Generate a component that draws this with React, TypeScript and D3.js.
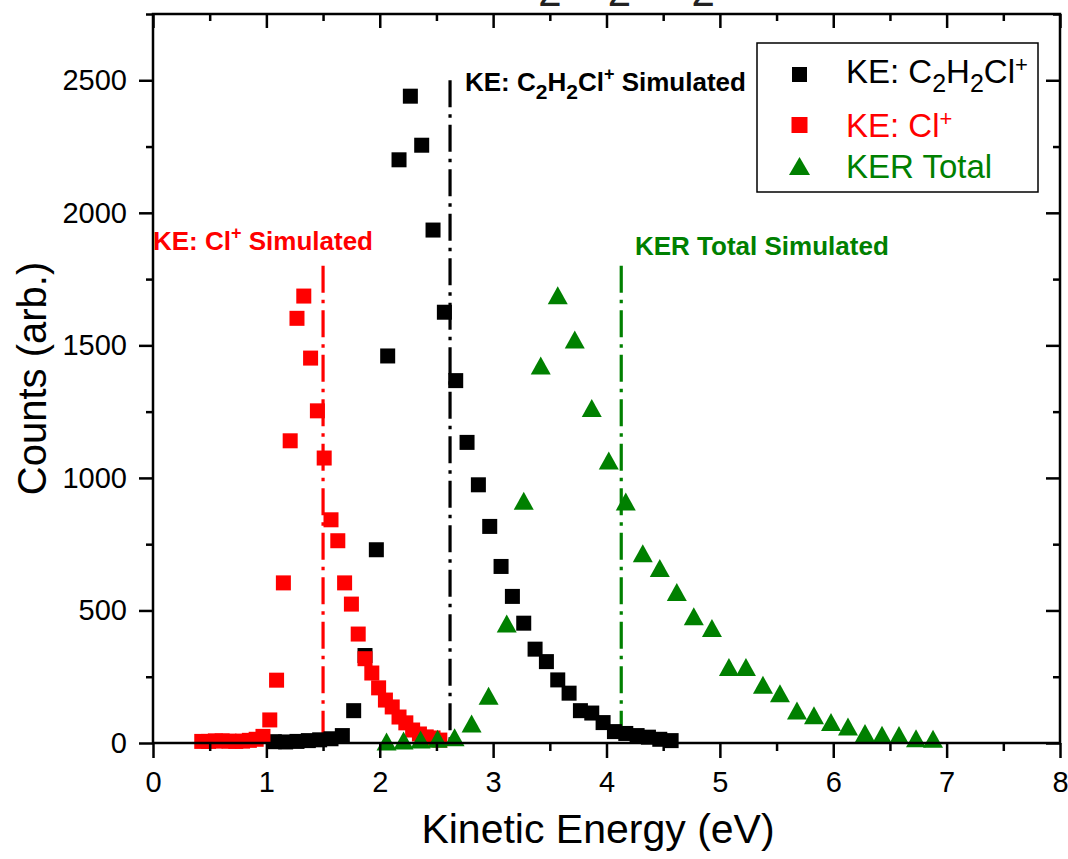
import React, { useRef, useEffect } from "react";
import * as d3 from "d3";

// axis ticks
const xTicks = [0, 1, 2, 3, 4, 5, 6, 7, 8];
const xMinor = [0.5, 1.5, 2.5, 3.5, 4.5, 5.5, 6.5, 7.5];
const yTicks = [0, 500, 1000, 1500, 2000, 2500];
const yMinor = [250, 750, 1250, 1750, 2250, 2750];

// KE: C2H2Cl+ (black squares)
const blackX = [1.07, 1.17, 1.27, 1.37, 1.47, 1.57, 1.67, 1.77, 1.87, 1.97, 2.07, 2.17, 2.27, 2.37, 2.47, 2.57, 2.67, 2.77, 2.87, 2.97, 3.07, 3.17, 3.27, 3.37, 3.47, 3.57, 3.67, 3.77, 3.87, 3.97, 4.07, 4.17, 4.27, 4.37, 4.47, 4.57];
const blackY = [5, 4, 6, 9, 12, 16, 28, 122, 330, 729, 1460, 2200, 2440, 2255, 1935, 1625, 1367, 1134, 974, 817, 666, 553, 452, 354, 307, 238, 188, 122, 113, 77, 43, 36, 28, 22, 14, 9];

// KE: Cl+ (red squares)
const redX = [0.43, 0.49, 0.55, 0.61, 0.67, 0.73, 0.79, 0.85, 0.91, 0.97, 1.03, 1.09, 1.15, 1.21, 1.27, 1.33, 1.39, 1.45, 1.51, 1.57, 1.63, 1.69, 1.75, 1.81, 1.87, 1.93, 1.99, 2.05, 2.11, 2.17, 2.23, 2.29, 2.35, 2.41, 2.47, 2.53];
const redY = [6, 6, 8, 8, 7, 6, 7, 10, 14, 25, 87, 237, 604, 1140, 1602, 1686, 1452, 1253, 1075, 842, 763, 604, 524, 411, 318, 264, 208, 162, 136, 98, 76, 49, 34, 23, 19, 11];

// KER Total (green triangles)
const greenX = [2.06, 2.21, 2.36, 2.51, 2.66, 2.81, 2.96, 3.12, 3.27, 3.42, 3.57, 3.72, 3.87, 4.02, 4.17, 4.32, 4.47, 4.62, 4.77, 4.93, 5.08, 5.23, 5.38, 5.53, 5.68, 5.83, 5.98, 6.13, 6.28, 6.43, 6.58, 6.73, 6.88];
const greenY = [6, 9, 13, 16, 22, 74, 178, 451, 914, 1424, 1689, 1522, 1264, 1066, 911, 716, 660, 570, 478, 434, 287, 287, 220, 188, 123, 105, 79, 62, 38, 31, 30, 18, 16];

// simulated values (vertical dash-dot lines)
const simEnergy = [1.5, 2.62, 4.13];
const simTop = [1800, 2500, 1800];
const simColor = ["#ff0000", "#000000", "#008000"];

const FONT = "Arial, 'Liberation Sans', Helvetica, sans-serif";
const GREEN = "#008000";
const RED = "#ff0000";

function KineticChart() {
  const axesRef = useRef<SVGGElement>(null);

  const x = d3.scaleLinear().domain([0, 8]).range([153, 1060]);
  const y = d3.scaleLinear().domain([0, 2750]).range([743, 14]);

  useEffect(() => {
    const g = d3.select(axesRef.current);
    g.selectAll("*").remove();

    const style = (sel: any) => {
      sel.select(".domain").remove();
      sel.selectAll("line").attr("stroke", "#000").attr("stroke-width", 2.5);
      sel.attr("font-size", 29).attr("font-family", FONT);
      sel.selectAll("text").attr("fill", "#000");
    };

    const bottom = g.append("g").attr("transform", `translate(0,${y(0)})`);
    bottom.call(d3.axisBottom(x).tickValues(xTicks).tickSize(15).tickPadding(13).tickFormat(d3.format("d")) as any).call(style);
    bottom.append("g").call(d3.axisBottom(x).tickValues(xMinor).tickSize(8).tickFormat(() => "") as any).call(style);

    const left = g.append("g").attr("transform", `translate(${x(0)},0)`);
    left.call(d3.axisLeft(y).tickValues(yTicks).tickSize(14).tickPadding(12).tickFormat(d3.format("d")) as any).call(style);
    left.append("g").call(d3.axisLeft(y).tickValues(yMinor).tickSize(7).tickFormat(() => "") as any).call(style);

    const top = g.append("g").attr("transform", `translate(0,${y(2750)})`);
    top.call(d3.axisTop(x).tickValues(xTicks).tickSize(-14).tickFormat(() => "") as any).call(style);
    top.append("g").call(d3.axisTop(x).tickValues(xMinor).tickSize(-7).tickFormat(() => "") as any).call(style);

    const right = g.append("g").attr("transform", `translate(${x(8)},0)`);
    right.call(d3.axisRight(y).tickValues(yTicks).tickSize(-14).tickFormat(() => "") as any).call(style);
    right.append("g").call(d3.axisRight(y).tickValues(yMinor).tickSize(-7).tickFormat(() => "") as any).call(style);
  }, []);

  const sq = 15;
  const triW = 20;
  const triH = 18;
  const triangle = (cx: number, cy: number, w: number, h: number) =>
    `M${cx - w / 2},${cy + h / 2}L${cx},${cy - h / 2}L${cx + w / 2},${cy + h / 2}Z`;

  return (
    <svg width={1068} height={859} style={{ position: "absolute", left: 0, top: 0, background: "#fff" }} fontFamily={FONT}>
      {/* title, cut off at the top edge as in the original figure */}
      <text x={492} y={-7} fontSize={64} fill="#222">
        C<tspan fontSize={42} dy={13}>2</tspan>
        <tspan dy={-13}>H</tspan>
        <tspan fontSize={42} dy={13}>2</tspan>
        <tspan dy={-13}>Cl</tspan>
        <tspan fontSize={42} dy={13}>2</tspan>
      </text>

      {/* simulated lines */}
      {simEnergy.map((e, i) => (
        <line key={i} x1={x(e)} x2={x(e)} y1={y(simTop[i])} y2={y(0)} stroke={simColor[i]} strokeWidth={3.2} strokeDasharray="27 7 3.5 7" />
      ))}

      {/* data */}
      {blackX.map((v, i) => (
        <rect key={"b" + i} x={x(v) - sq / 2} y={y(blackY[i]) - sq / 2} width={sq} height={sq} fill="#000" />
      ))}
      {redX.map((v, i) => (
        <rect key={"r" + i} x={x(v) - sq / 2} y={y(redY[i]) - sq / 2} width={sq} height={sq} fill={RED} />
      ))}
      {greenX.map((v, i) => (
        <path key={"g" + i} d={triangle(x(v), y(greenY[i]), triW, triH)} fill={GREEN} />
      ))}

      {/* frame + axes */}
      <rect x={x(0)} y={y(2750)} width={x(8) - x(0)} height={y(0) - y(2750)} fill="none" stroke="#000" strokeWidth={2.5} />
      <g ref={axesRef} />

      {/* simulated labels */}
      <text x={153} y={250} fontSize={26} fontWeight="bold" fill={RED} style={{ whiteSpace: "pre" }}>
        KE: Cl<tspan fontSize={18} dy={-11}>+</tspan>
        <tspan fontSize={26} dy={11}> Simulated</tspan>
      </text>
      <text x={465} y={91} fontSize={26} fontWeight="bold" fill="#000" style={{ whiteSpace: "pre" }}>
        KE: C<tspan fontSize={21} dy={8}>2</tspan>
        <tspan fontSize={26} dy={-8}>H</tspan>
        <tspan fontSize={21} dy={8}>2</tspan>
        <tspan fontSize={26} dy={-8}>Cl</tspan>
        <tspan fontSize={18} dy={-11}>+</tspan>
        <tspan fontSize={26} dy={11}> Simulated</tspan>
      </text>
      <text x={635} y={255} fontSize={26} fontWeight="bold" fill={GREEN}>
        KER Total Simulated
      </text>

      {/* axis titles */}
      <text x={598} y={843} fontSize={41} textAnchor="middle" fill="#000">
        Kinetic Energy (eV)
      </text>
      <text transform={`translate(46,${(y(0) + y(2750)) / 2}) rotate(-90)`} fontSize={40} textAnchor="middle" fill="#000">
        Counts (arb.)
      </text>

      {/* legend */}
      <rect x={757} y={43} width={281} height={149} fill="#fff" stroke="#000" strokeWidth={1.5} />
      <rect x={799.5 - 7.5} y={74.5 - 7.5} width={15} height={15} fill="#000" />
      <rect x={799.5 - 8} y={125 - 8} width={16} height={16} fill={RED} />
      <path d={triangle(799.5, 166, 21, 18)} fill={GREEN} />
      <text x={846} y={83} fontSize={33} fill="#000">
        KE: C<tspan fontSize={25} dy={9}>2</tspan>
        <tspan fontSize={33} dy={-9}>H</tspan>
        <tspan fontSize={25} dy={9}>2</tspan>
        <tspan fontSize={33} dy={-9}>Cl</tspan>
        <tspan fontSize={22} dy={-11}>+</tspan>
      </text>
      <text x={846} y={137} fontSize={33} fill={RED}>
        KE: Cl<tspan fontSize={22} dy={-11}>+</tspan>
      </text>
      <text x={846} y={178} fontSize={33} fill={GREEN}>
        KER Total
      </text>
    </svg>
  );
}

export default function App() {
  return <KineticChart />;
}
